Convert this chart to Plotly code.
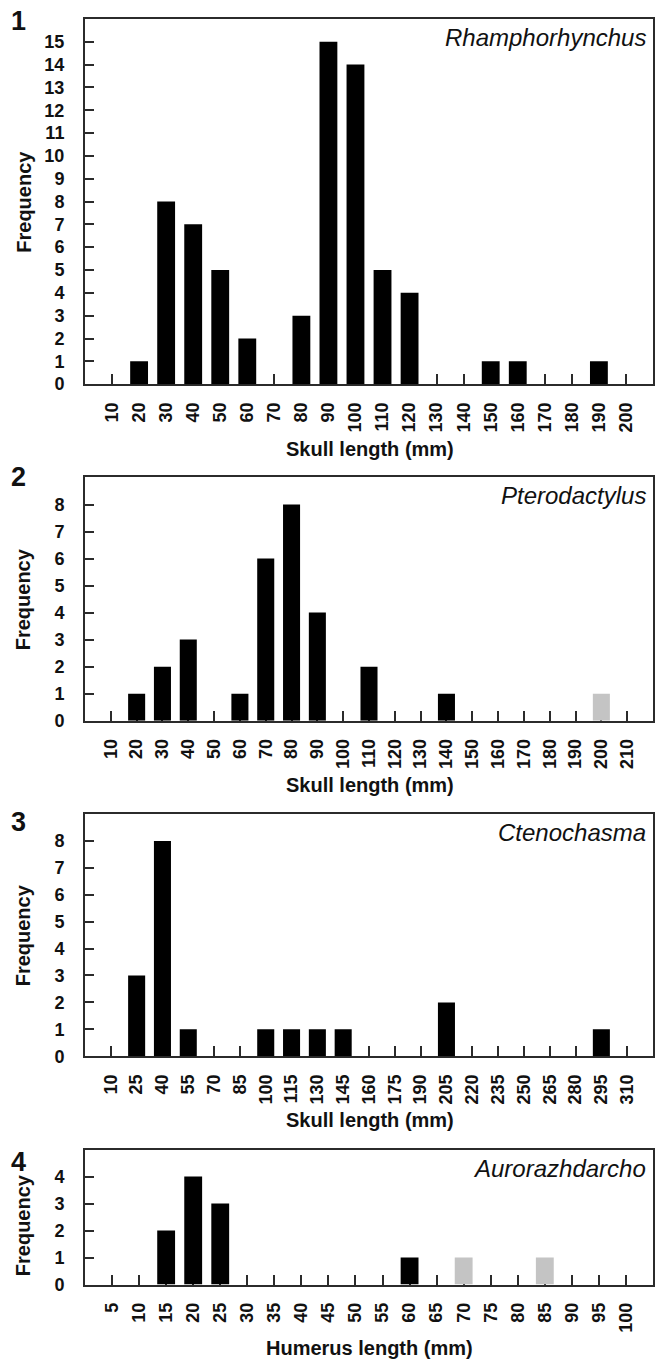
import plotly.graph_objects as go

# ---------------- data ----------------
p1_cats = [10, 20, 30, 40, 50, 60, 70, 80, 90, 100, 110, 120, 130, 140, 150, 160, 170, 180, 190, 200]
p1_black = [0, 1, 8, 7, 5, 2, 0, 3, 15, 14, 5, 4, 0, 0, 1, 1, 0, 0, 1, 0]
p1_grey = [0] * 20

p2_cats = [10, 20, 30, 40, 50, 60, 70, 80, 90, 100, 110, 120, 130, 140, 150, 160, 170, 180, 190, 200, 210]
p2_black = [0, 1, 2, 3, 0, 1, 6, 8, 4, 0, 2, 0, 0, 1, 0, 0, 0, 0, 0, 0, 0]
p2_grey = [0, 0, 0, 0, 0, 0, 0, 0, 0, 0, 0, 0, 0, 0, 0, 0, 0, 0, 0, 1, 0]

p3_cats = [10, 25, 40, 55, 70, 85, 100, 115, 130, 145, 160, 175, 190, 205, 220, 235, 250, 265, 280, 295, 310]
p3_black = [0, 3, 8, 1, 0, 0, 1, 1, 1, 1, 0, 0, 0, 2, 0, 0, 0, 0, 0, 1, 0]
p3_grey = [0] * 21

p4_cats = [5, 10, 15, 20, 25, 30, 35, 40, 45, 50, 55, 60, 65, 70, 75, 80, 85, 90, 95, 100]
p4_black = [0, 0, 2, 4, 3, 0, 0, 0, 0, 0, 0, 1, 0, 0, 0, 0, 0, 0, 0, 0]
p4_grey = [0, 0, 0, 0, 0, 0, 0, 0, 0, 0, 0, 0, 0, 1, 0, 0, 1, 0, 0, 0]

panel_numbers = ["1", "2", "3", "4"]
taxa = ["Rhamphorhynchus", "Pterodactylus", "Ctenochasma", "Aurorazhdarcho"]
x_titles = ["Skull length (mm)", "Skull length (mm)", "Skull length (mm)", "Humerus length (mm)"]
y_title = "Frequency"
y_max = [16, 9, 9, 5]          # top of each plot box
y_tick_max = [15, 8, 8, 4]     # highest labelled tick

# ---------------- layout geometry (pixels) ----------------
W, H = 655, 1367
ML = 85
panel_px = [(19, 387), (481, 726), (820, 1064), (1158, 1294)]  # top, bottom of plot box
xtitle_y = [452, 791, 1128, 1358]
num_y = [21, 481, 828, 1171]

FONT = "Liberation Sans, Arial, sans-serif"
AX = "#2b2b2b"

def py(p):
    return 1 - p / H

panels = [
    (p1_cats, p1_black, p1_grey),
    (p2_cats, p2_black, p2_grey),
    (p3_cats, p3_black, p3_grey),
    (p4_cats, p4_black, p4_grey),
]

fig = go.Figure()
annotations = []
pw = W - ML

for i, (cats, blk, gry) in enumerate(panels):
    n = i + 1
    xa = "x" if n == 1 else f"x{n}"
    ya = "y" if n == 1 else f"y{n}"
    labels = [str(c) for c in cats]
    fig.add_trace(go.Bar(x=labels, y=blk, marker=dict(color="#000000", line=dict(width=0)),
                         width=0.66, xaxis=xa, yaxis=ya, showlegend=False))
    fig.add_trace(go.Bar(x=labels, y=gry, marker=dict(color="#c4c4c4", line=dict(width=0)),
                         width=0.66, xaxis=xa, yaxis=ya, showlegend=False))
    top, bot = panel_px[i]
    xkey = "xaxis" if n == 1 else f"xaxis{n}"
    ykey = "yaxis" if n == 1 else f"yaxis{n}"
    fig.layout[xkey] = dict(
        domain=[0, 1], anchor=ya, type="category",
        categoryorder="array", categoryarray=labels,
        range=[-1, len(cats)], tickmode="array", tickvals=labels, ticktext=labels,
        ticks="inside", ticklen=10, tickwidth=1.6, tickcolor=AX,
        tickangle=-90, ticklabelstandoff=9,
        tickfont=dict(family=FONT, size=18, color="#111", weight="bold"),
        showline=True, linecolor=AX, linewidth=2, mirror=True,
        showgrid=False, zeroline=False, layer="below traces", fixedrange=True,
    )
    fig.layout[ykey] = dict(
        domain=[py(bot), py(top)], anchor=xa,
        range=[0, y_max[i]], tickmode="array",
        tickvals=list(range(0, y_tick_max[i] + 1)),
        ticks="inside", ticklen=9, tickwidth=1.6, tickcolor=AX,
        ticklabelstandoff=15,
        tickfont=dict(family=FONT, size=18, color="#111", weight="bold"),
        showline=True, linecolor=AX, linewidth=2, mirror=True,
        showgrid=False, zeroline=False, fixedrange=True,
    )
    # y axis title
    annotations.append(dict(
        text=y_title, xref="paper", yref="paper",
        x=(23 - ML) / pw, y=py((top + bot) / 2 + (8 if n == 4 else 0)),
        xanchor="center", yanchor="middle", textangle=-90, showarrow=False,
        font=dict(family=FONT, size=20, color="#111", weight="bold")))
    # x axis title
    annotations.append(dict(
        text=x_titles[i], xref="paper", yref="paper",
        x=(371 - ML) / pw, y=py(xtitle_y[i]),
        xanchor="center", yanchor="middle", showarrow=False,
        font=dict(family=FONT, size=20, color="#111", weight="bold")))
    # panel number
    annotations.append(dict(
        text=panel_numbers[i], xref="paper", yref="paper",
        x=(18 - ML) / pw, y=py(num_y[i]),
        xanchor="center", yanchor="middle", showarrow=False,
        font=dict(family=FONT, size=27, color="#111", weight="bold")))
    # taxon name
    annotations.append(dict(
        text=f"<i>{taxa[i]}</i>", xref="paper", yref="paper",
        x=(650 - ML) / pw, y=py(top + 3),
        xanchor="right", yanchor="top", showarrow=False,
        font=dict(family=FONT, size=24, color="#111")))

fig.update_layout(
    width=W, height=H,
    margin=dict(l=ML, r=0, t=0, b=0),
    paper_bgcolor="white", plot_bgcolor="white",
    barmode="overlay", annotations=annotations,
    showlegend=False,
)

fig.write_html(
    "out.html",
    config={"displayModeBar": False},
    post_script="document.body.style.margin='0';document.body.style.padding='0';"
                "document.documentElement.style.overflow='hidden';",
)
